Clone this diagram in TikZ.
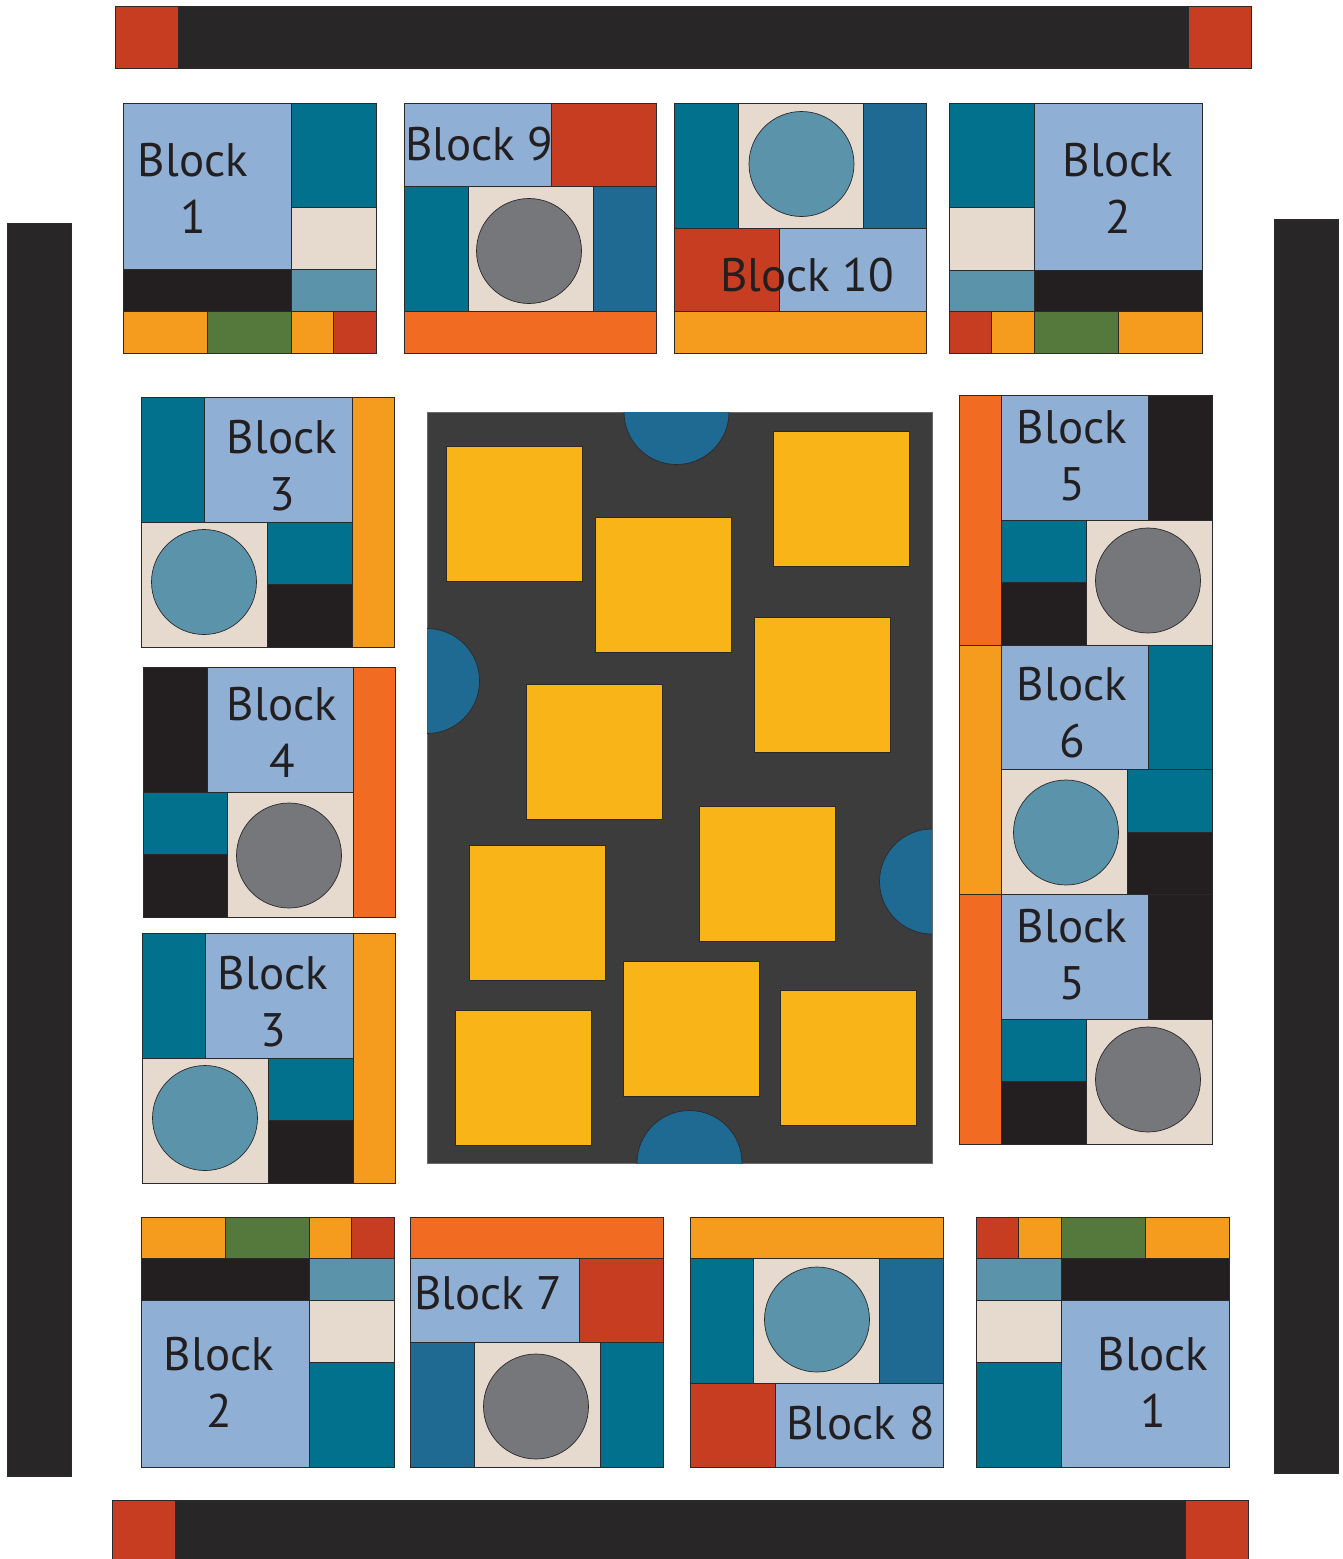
\documentclass[tikz,border=0pt]{standalone}
\usepackage{fontspec}
\setmainfont{PT Sans}
\usetikzlibrary{positioning}

\definecolor{seam}{HTML}{2B2A2B}
\definecolor{qborder}{HTML}{282627}
\definecolor{qred}{HTML}{C63D21}
\definecolor{qteal}{HTML}{02718D}
\definecolor{qdblue}{HTML}{1F6A93}
\definecolor{qsteel}{HTML}{5B93AA}
\definecolor{qlblue}{HTML}{8FAFD5}
\definecolor{qcream}{HTML}{E6DACE}
\definecolor{qblack}{HTML}{231F20}
\definecolor{qorange}{HTML}{F59B1E}
\definecolor{qorred}{HTML}{F26B22}
\definecolor{qgreen}{HTML}{55783C}
\definecolor{qgray}{HTML}{76777B}
\definecolor{qyellow}{HTML}{F9B418}
\definecolor{qpanel}{HTML}{3C3C3C}

\begin{document}
\begin{tikzpicture}[x=1pt, y=-1pt, line width=0.7pt,
  pborder/.style={draw=seam, fill=qborder},
  pred/.style={draw=seam, fill=qred},
  pteal/.style={draw=seam, fill=qteal},
  pdblue/.style={draw=seam, fill=qdblue},
  psteel/.style={draw=seam, fill=qsteel},
  plblue/.style={draw=seam, fill=qlblue},
  pcream/.style={draw=seam, fill=qcream},
  pblack/.style={draw=seam, fill=qblack},
  porange/.style={draw=seam, fill=qorange},
  porred/.style={draw=seam, fill=qorred},
  pgreen/.style={draw=seam, fill=qgreen},
  pgray/.style={draw=seam, fill=qgray},
  pyellow/.style={draw=seam, fill=qyellow},
  ppanel/.style={draw=seam!70, fill=qpanel},
  lbl/.style={font=\fontsize{47}{57}\selectfont, text=qblack, align=center, inner sep=0pt}
]
  \useasboundingbox (0,0) rectangle (1343,1559);

  % outer border
  \draw[pborder] (115,6) rectangle (1251,68);
  \draw[pred] (115,6) rectangle (178,68);
  \draw[pred] (1188,6) rectangle (1251,68);
  \draw[pborder] (112,1500) rectangle (1248,1560);
  \draw[pred] (112,1500) rectangle (175,1560);
  \draw[pred] (1185,1500) rectangle (1248,1560);
  \draw[pborder] (7,223) rectangle (71,1476);
  \draw[pborder] (1274,219) rectangle (1338,1473);

  % top row
  \begin{scope}[shift={(123,103)}]
    \draw[plblue] (0,0) rectangle (168,166);
    \draw[pteal] (168,0) rectangle (253,104);
    \draw[pcream] (168,104) rectangle (253,166);
    \draw[pblack] (0,166) rectangle (168,208);
    \draw[psteel] (168,166) rectangle (253,208);
    \draw[porange] (0,208) rectangle (84,250);
    \draw[pgreen] (84,208) rectangle (168,250);
    \draw[porange] (168,208) rectangle (210,250);
    \draw[pred] (210,208) rectangle (253,250);
    \node[lbl] (blk1a) at (70,85.5) {Block\\1};
  \end{scope}

  \begin{scope}[shift={(404,103)}]
    \draw[plblue] (0,0) rectangle (147,83);
    \draw[pred] (147,0) rectangle (252,83);
    \draw[pteal] (0,83) rectangle (64,208);
    \draw[pcream] (64,83) rectangle (189,208);
    \draw[pdblue] (189,83) rectangle (252,208);
    \draw[pgray] (125,148) circle (52.5pt);
    \draw[porred] (0,208) rectangle (252,250);
    \node[lbl, anchor=base west] (blk9) at (1,57) {Block 9};
  \end{scope}

  \begin{scope}[shift={(674,103)}]
    \draw[pteal] (0,0) rectangle (64,125);
    \draw[pcream] (64,0) rectangle (189,125);
    \draw[pdblue] (189,0) rectangle (252,125);
    \draw[psteel] (127.5,61) circle (52.5pt);
    \draw[pred] (0,125) rectangle (105,208);
    \draw[plblue] (105,125) rectangle (252,208);
    \draw[porange] (0,208) rectangle (252,250);
    \node[lbl] (blk10) at (133,172) {Block 10};
  \end{scope}

  \begin{scope}[shift={(949,103)}]
    \draw[pteal] (0,0) rectangle (85,104);
    \draw[pcream] (0,104) rectangle (85,167);
    \draw[psteel] (0,167) rectangle (85,208);
    \draw[plblue] (85,0) rectangle (253,167);
    \draw[pblack] (85,167) rectangle (253,208);
    \draw[pred] (0,208) rectangle (42,250);
    \draw[porange] (42,208) rectangle (85,250);
    \draw[pgreen] (85,208) rectangle (169,250);
    \draw[porange] (169,208) rectangle (253,250);
    \node[lbl] (blk2a) at (169,85.5) {Block\\2};
  \end{scope}

  % left column
  \foreach \ox/\oy/\tx/\n in {141/397/141/a, 142/933/131/b} {
    \begin{scope}[shift={(\ox,\oy)}]
      \draw[pteal] (0,0) rectangle (63,125);
      \draw[plblue] (63,0) rectangle (211,125);
      \draw[porange] (211,0) rectangle (253,250);
      \draw[pcream] (0,125) rectangle (126,250);
      \draw[psteel] (63,185) circle (52.5pt);
      \draw[pteal] (126,125) rectangle (211,187);
      \draw[pblack] (126,187) rectangle (211,250);
      \node[lbl] (blk3\n) at (\tx,68.5) {Block\\3};
    \end{scope}
  }

  \begin{scope}[shift={(143,667)}]
    \draw[pblack] (0,0) rectangle (64,125);
    \draw[plblue] (64,0) rectangle (210,125);
    \draw[porred] (210,0) rectangle (252,250);
    \draw[pteal] (0,125) rectangle (84,187);
    \draw[pblack] (0,187) rectangle (84,250);
    \draw[pcream] (84,125) rectangle (210,250);
    \draw[pgray] (146,188.5) circle (52.5pt);
    \node[lbl] (blk4) at (139,65.5) {Block\\4};
  \end{scope}

  % right column
  \foreach \oy/\n in {395/a, 894/b} {
    \begin{scope}[shift={(959,\oy)}]
      \draw[porred] (0,0) rectangle (42,250);
      \draw[plblue] (42,0) rectangle (189,125);
      \draw[pblack] (189,0) rectangle (253,125);
      \draw[pteal] (42,125) rectangle (127,187);
      \draw[pblack] (42,187) rectangle (127,250);
      \draw[pcream] (127,125) rectangle (253,250);
      \draw[pgray] (189,185.5) circle (52.5pt);
      \node[lbl] (blk5\n) at (113,60.5) {Block\\5};
    \end{scope}
  }

  \begin{scope}[shift={(959,645)}]
    \draw[porange] (0,0) rectangle (42,249);
    \draw[plblue] (42,0) rectangle (189,124);
    \draw[pteal] (189,0) rectangle (253,124);
    \draw[pcream] (42,124) rectangle (168,249);
    \draw[psteel] (107,187.5) circle (52.5pt);
    \draw[pteal] (168,124) rectangle (253,187);
    \draw[pblack] (168,187) rectangle (253,249);
    \node[lbl] (blk6) at (113,67.5) {Block\\6};
  \end{scope}

  % bottom row
  \begin{scope}[shift={(141,1217)}]
    \draw[porange] (0,0) rectangle (84,41);
    \draw[pgreen] (84,0) rectangle (168,41);
    \draw[porange] (168,0) rectangle (210,41);
    \draw[pred] (210,0) rectangle (253,41);
    \draw[pblack] (0,41) rectangle (168,83);
    \draw[psteel] (168,41) rectangle (253,83);
    \draw[plblue] (0,83) rectangle (168,250);
    \draw[pcream] (168,83) rectangle (253,145);
    \draw[pteal] (168,145) rectangle (253,250);
    \node[lbl] (blk2b) at (78,165.5) {Block\\2};
  \end{scope}

  \begin{scope}[shift={(410,1217)}]
    \draw[porred] (0,0) rectangle (253,41);
    \draw[plblue] (0,41) rectangle (169,125);
    \draw[pred] (169,41) rectangle (253,125);
    \draw[pdblue] (0,125) rectangle (64,250);
    \draw[pcream] (64,125) rectangle (190,250);
    \draw[pteal] (190,125) rectangle (253,250);
    \draw[pgray] (126,189.5) circle (52.5pt);
    \node[lbl, anchor=base west] (blk7) at (4,92) {Block 7};
  \end{scope}

  \begin{scope}[shift={(690,1217)}]
    \draw[porange] (0,0) rectangle (253,41);
    \draw[pteal] (0,41) rectangle (63,166);
    \draw[pcream] (63,41) rectangle (189,166);
    \draw[pdblue] (189,41) rectangle (253,166);
    \draw[psteel] (127,102.5) circle (52.5pt);
    \draw[pred] (0,166) rectangle (85,250);
    \draw[plblue] (85,166) rectangle (253,250);
    \node[lbl] (blk8) at (170.5,206) {Block 8};
  \end{scope}

  \begin{scope}[shift={(976,1217)}]
    \draw[pred] (0,0) rectangle (42,41);
    \draw[porange] (42,0) rectangle (85,41);
    \draw[pgreen] (85,0) rectangle (169,41);
    \draw[porange] (169,0) rectangle (253,41);
    \draw[psteel] (0,41) rectangle (85,83);
    \draw[pblack] (85,41) rectangle (253,83);
    \draw[pcream] (0,83) rectangle (85,145);
    \draw[pteal] (0,145) rectangle (85,250);
    \draw[plblue] (85,83) rectangle (253,250);
    \node[lbl] (blk1b) at (177,165.5) {Block\\1};
  \end{scope}

  % centre panel
  \draw[ppanel] (427,412) rectangle (932,1163);
  \begin{scope}
    \clip (427,412) rectangle (932,1163);
    \draw[pdblue] (676.5,412) circle (52.5pt);
    \draw[pdblue] (427,681) circle (52.5pt);
    \draw[pdblue] (932,881.5) circle (52.5pt);
    \draw[pdblue] (689.5,1163) circle (52.5pt);
  \end{scope}
  \foreach \sx/\sy in {446/446, 595/517, 773/431, 754/617, 526/684,
                       469/845, 699/806, 623/961, 455/1010, 780/990}
    \draw[pyellow] (\sx,\sy) rectangle ++(136,135);
\end{tikzpicture}
\end{document}
